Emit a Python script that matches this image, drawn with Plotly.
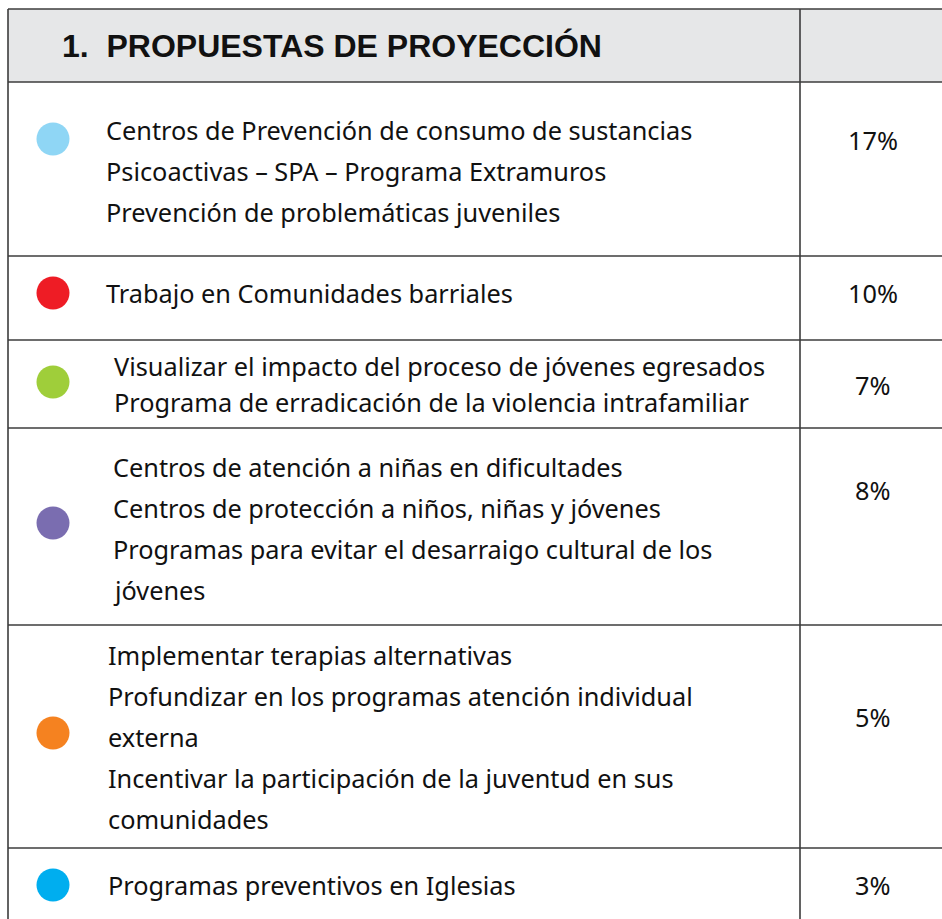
import plotly.graph_objects as go

# ---- data ----
title = "1.  PROPUESTAS DE PROYECCIÓN"
row_lines = [
    ["Centros de Prevención de consumo de sustancias",
     "Psicoactivas – SPA – Programa Extramuros",
     "Prevención de problemáticas juveniles"],
    ["Trabajo en Comunidades barriales"],
    ["Visualizar el impacto del proceso de jóvenes egresados",
     "Programa de erradicación de la violencia intrafamiliar"],
    ["Centros de atención a niñas en dificultades",
     "Centros de protección a niños, niñas y jóvenes",
     "Programas para evitar el desarraigo cultural de los",
     "jóvenes"],
    ["Implementar terapias alternativas",
     "Profundizar en los programas atención individual",
     "externa",
     "Incentivar la participación de la juventud en sus",
     "comunidades"],
    ["Programas preventivos en Iglesias"],
]
percentages = ["17%", "10%", "7%", "8%", "5%", "3%"]
dot_colors = ["#8fd6f5", "#ee1c25", "#9fce3a", "#7a6db0", "#f58220", "#00aeef"]

# ---- layout geometry (pixels) ----
W, H = 942, 919
left, right, col_x = 8, 942, 800
top, header_bottom = 9, 82
row_edges = [82, 256, 340, 428, 625, 848, 919]
dot_y = [139, 293, 382, 523, 733, 885]
dot_x = 53
text_x = [104, 104, 112, 111, 106, 106]
text_first_y = [130, 293, 366, 467, 655, 885]
line_gap = [41, 41, 36, 41, 41, 41]
pct_y = [140, 293, 385, 490, 717, 885]
pct_x = 873

line_col = "#3c3c3c"
body_font = dict(family="Noto Sans, Lato, sans-serif", size=25.3, color="#111111")

fig = go.Figure()

shapes = []
shapes.append(dict(type="rect", x0=left, x1=right + 5, y0=top, y1=header_bottom,
                   fillcolor="#e6e7e8", line=dict(width=0), layer="below"))
for y in [top, header_bottom] + row_edges[1:-1]:
    shapes.append(dict(type="line", x0=left, x1=right + 5, y0=y, y1=y,
                       line=dict(color=line_col, width=1.6)))
for x in [left, col_x]:
    shapes.append(dict(type="line", x0=x, x1=x, y0=top, y1=H + 5,
                       line=dict(color=line_col, width=1.6)))

fig.add_trace(go.Scatter(
    x=[dot_x] * len(dot_colors), y=dot_y, mode="markers",
    marker=dict(size=33, color=dot_colors, line=dict(width=0)),
    hoverinfo="skip", showlegend=False))

annotations = [dict(x=60, y=46, xref="x", yref="y", text="<b>" + title + "</b>",
                    showarrow=False, xanchor="left", yanchor="middle",
                    font=dict(family="Liberation Sans, Arial, sans-serif", size=32, color="#111111"))]
for i, lines in enumerate(row_lines):
    for j, ln in enumerate(lines):
        annotations.append(dict(x=text_x[i], y=text_first_y[i] + j * line_gap[i],
                                xref="x", yref="y", text=ln, showarrow=False,
                                xanchor="left", yanchor="middle", font=body_font))
    annotations.append(dict(x=pct_x, y=pct_y[i], xref="x", yref="y", text=percentages[i],
                            showarrow=False, xanchor="center", yanchor="middle", font=body_font))

fig.update_layout(
    width=W, height=H, margin=dict(l=0, r=0, t=0, b=0),
    paper_bgcolor="white", plot_bgcolor="white",
    xaxis=dict(range=[0, W], visible=False, fixedrange=True),
    yaxis=dict(range=[H, 0], visible=False, fixedrange=True),
    shapes=shapes, annotations=annotations, showlegend=False,
)

fig.write_html("out.html", config={"displayModeBar": False},
               post_script="document.body.style.margin='0';document.body.style.overflow='hidden';")
